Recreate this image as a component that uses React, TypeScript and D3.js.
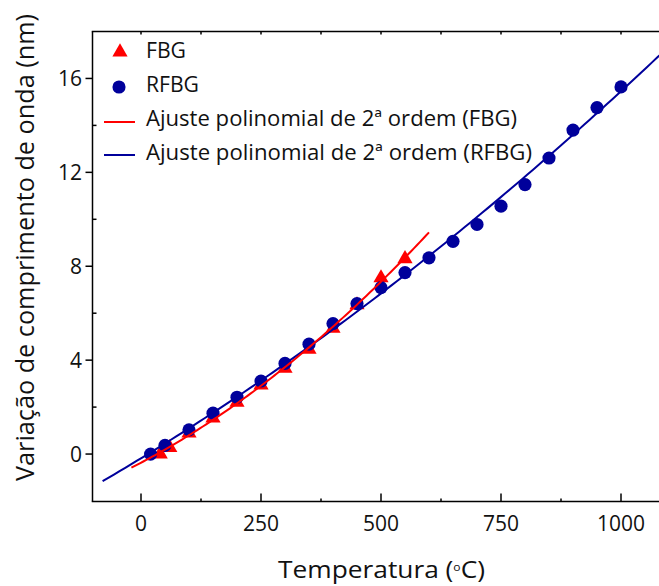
import React from "react";
import * as d3 from "d3";

const fbgTemp = [40, 60, 100, 150, 200, 250, 300, 350, 400, 450, 500, 550];
const fbgShift = [0.0, 0.27, 0.89, 1.53, 2.2, 2.94, 3.65, 4.46, 5.35, 6.35, 7.5, 8.32];
const rfbgTemp = [20, 50, 100, 150, 200, 250, 300, 350, 400, 450, 500, 550, 600, 650, 700, 750, 800, 850, 900, 950, 1000];
const rfbgShift = [0, 0.37, 1.03, 1.74, 2.42, 3.11, 3.86, 4.68, 5.56, 6.41, 7.09, 7.73, 8.36, 9.06, 9.78, 10.56, 11.48, 12.61, 13.8, 14.76, 15.64];
const fbgFitRange = [-20, 600];
const rfbgFitRange = [-80, 1100];
const xMajor = [0, 250, 500, 750, 1000];
const xMinor = [125, 375, 625, 875];
const yMajor = [0, 4, 8, 12, 16];
const yMinor = [2, 6, 10, 14];
const legendLabels = ["FBG", "RFBG", "Ajuste polinomial de 2ª ordem (FBG)", "Ajuste polinomial de 2ª ordem (RFBG)"];

const RED = "#FF0000";
const BLUE = "#00009B";
const FONT = "'Open Sans', 'Noto Sans', sans-serif";

function quadFit(xs: number[], ys: number[]) {
  // least squares y = a + b x + c x^2 (x scaled)
  const s = 100;
  const S = [0, 0, 0, 0, 0];
  const T = [0, 0, 0];
  xs.forEach((x0, i) => {
    const x = x0 / s;
    for (let k = 0; k < 5; k++) S[k] += Math.pow(x, k);
    for (let k = 0; k < 3; k++) T[k] += ys[i] * Math.pow(x, k);
  });
  const M = [
    [S[0], S[1], S[2], T[0]],
    [S[1], S[2], S[3], T[1]],
    [S[2], S[3], S[4], T[2]],
  ];
  for (let i = 0; i < 3; i++) {
    for (let j = i + 1; j < 3; j++) {
      const f = M[j][i] / M[i][i];
      for (let k = i; k < 4; k++) M[j][k] -= f * M[i][k];
    }
  }
  const c = [0, 0, 0];
  for (let i = 2; i >= 0; i--) {
    let v = M[i][3];
    for (let k = i + 1; k < 3; k++) v -= M[i][k] * c[k];
    c[i] = v / M[i][i];
  }
  return (x0: number) => {
    const x = x0 / s;
    return c[0] + c[1] * x + c[2] * x * x;
  };
}

export default function App() {
  const W = 659, H = 586;
  const left = 92.5, top = 31.5, bottom = 501.5, right = 659;
  const x = d3.scaleLinear().domain([-100, 1100]).range([93, 669]);
  const y = d3.scaleLinear().domain([-2, 18]).range([501, 31.5]);

  const fFbg = quadFit(fbgTemp, fbgShift);
  const fRfbg = quadFit(rfbgTemp, rfbgShift);
  const mk = (f: (t: number) => number, r: number[]) => {
    const ts = d3.range(r[0], r[1] + 0.001, (r[1] - r[0]) / 100);
    return d3.line<number>().x((t) => x(t)).y((t) => y(f(t)))(ts) || "";
  };
  const tri = d3.symbol().type(d3.symbolTriangle).size(100)() || "";
  const circ = d3.symbol().type(d3.symbolCircle).size(136)() || "";
  const legendWidths = [40, 53, 371, 386];

  return (
    <svg width={W} height={H} style={{ position: "absolute", left: 0, top: 0, background: "#fff" }} fontFamily={FONT}>
      <defs>
        <clipPath id="plot">
          <rect x={left} y={top} width={right - left} height={bottom - top} />
        </clipPath>
      </defs>
      <rect x={0} y={0} width={W} height={H} fill="#fff" />
      <g clipPath="url(#plot)">
        {fbgTemp.map((t, i) => (
          <path key={"t" + i} d={tri} transform={`translate(${x(t)},${y(fbgShift[i])})`} fill={RED} />
        ))}
        {rfbgTemp.map((t, i) => (
          <path key={"c" + i} d={circ} transform={`translate(${x(t)},${y(rfbgShift[i])})`} fill={BLUE} />
        ))}
        <path d={mk(fRfbg, rfbgFitRange)} fill="none" stroke={BLUE} strokeWidth={2} />
        <path d={mk(fFbg, fbgFitRange)} fill="none" stroke={RED} strokeWidth={2} />
      </g>
      {/* axes */}
      <g stroke="#000" strokeWidth={1.5} fill="none">
        <line x1={left} y1={top} x2={left} y2={bottom} />
        <line x1={left - 0.75} y1={bottom} x2={right} y2={bottom} />
        <line x1={left - 0.75} y1={top} x2={right} y2={top} />
        {yMajor.map((v) => (
          <line key={"ym" + v} x1={left - 7} x2={left} y1={y(v)} y2={y(v)} />
        ))}
        {yMinor.map((v) => (
          <line key={"yn" + v} x1={left} x2={left + 4} y1={y(v)} y2={y(v)} />
        ))}
        {xMajor.map((v) => (
          <line key={"xm" + v} x1={x(v)} x2={x(v)} y1={bottom} y2={bottom - 8} />
        ))}
        {xMinor.map((v) => (
          <line key={"xn" + v} x1={x(v)} x2={x(v)} y1={bottom} y2={bottom - 3} />
        ))}
        {[...xMajor, ...xMinor].map((v) => (
          <line key={"xt" + v} x1={x(v)} x2={x(v)} y1={top} y2={top + 3} />
        ))}
      </g>
      <g fontSize={21} fill="#111">
        {yMajor.map((v) => (
          <text key={"yl" + v} x={82} y={y(v) + 7.5} textAnchor="end">{v}</text>
        ))}
        {xMajor.map((v) => (
          <text key={"xl" + v} x={x(v)} y={531} textAnchor="middle">{v}</text>
        ))}
      </g>
      <text x={278} y={578} fontSize={24} fill="#111" textLength={207} lengthAdjust="spacingAndGlyphs">
        Temperatura (<tspan fontSize={11} dy={-7}>o</tspan><tspan dy={7}>C)</tspan>
      </text>
      <text
        transform={`translate(34,${(14 + 481) / 2}) rotate(-90)`}
        textAnchor="middle"
        fontSize={25}
        fill="#111"
        textLength={467}
        lengthAdjust="spacingAndGlyphs"
      >
        Variação de comprimento de onda (nm)
      </text>
      {/* legend */}
      <g>
        <path d={tri} transform="translate(120,52)" fill={RED} />
        <path d={circ} transform="translate(119,87)" fill={BLUE} />
        <line x1={104} x2={135} y1={122} y2={122} stroke={RED} strokeWidth={2} />
        <line x1={104} x2={135} y1={155} y2={155} stroke={BLUE} strokeWidth={2} />
        {legendLabels.map((l, i) => (
          <text key={l} x={146} y={58 + i * 34} fontSize={21} fill="#111" textLength={legendWidths[i]} lengthAdjust="spacingAndGlyphs">
            {l}
          </text>
        ))}
      </g>
    </svg>
  );
}
